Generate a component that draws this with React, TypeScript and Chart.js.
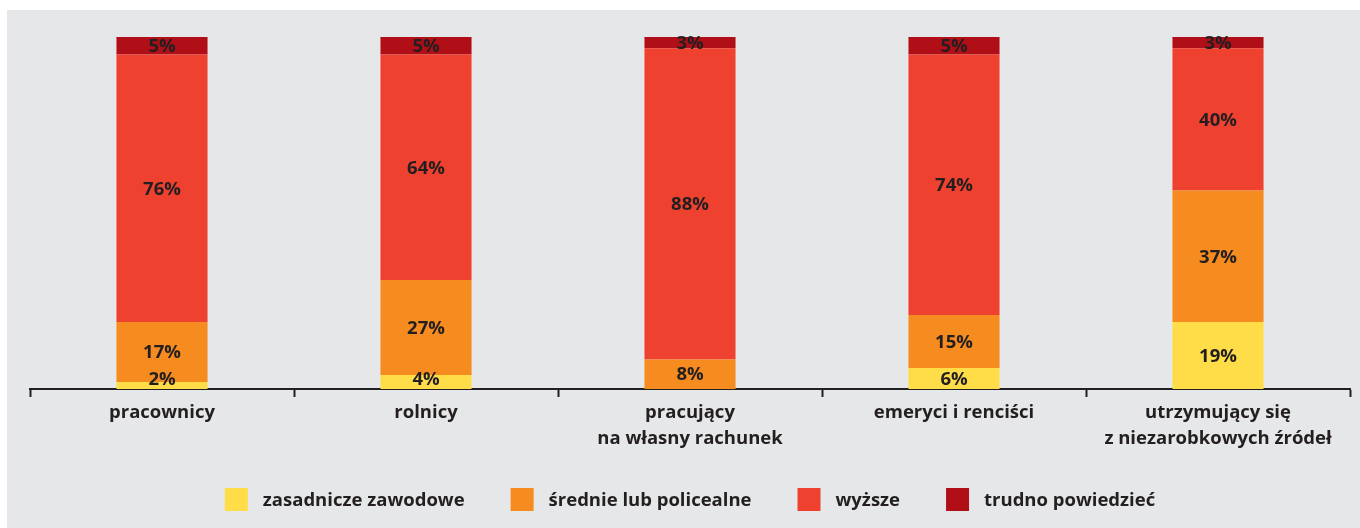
import { useEffect, useRef } from "react";
import { Chart, registerables } from "chart.js";

Chart.register(...registerables);

const categories = [
  ["pracownicy"],
  ["rolnicy"],
  ["pracujący", "na własny rachunek"],
  ["emeryci i renciści"],
  ["utrzymujący się", "z niezarobkowych źródeł"],
];
const seriesNames = ["zasadnicze zawodowe", "średnie lub policealne", "wyższe", "trudno powiedzieć"];
const zasadnicze = [2, 4, 0, 6, 19];
const srednie = [17, 27, 8.4, 15, 37.4];
const wyzsze = [76, 64, 88.4, 74, 40.4];
const trudno = [5, 5, 3.2, 5, 3.2];
const colors = ["#fedd48", "#f68b1f", "#ef4130", "#b10f17"];

const FONT = "'Open Sans', 'DejaVu Sans', sans-serif";
const TEXT = "#231f20";
const FS = 18.5;

const labelPlugin = {
  id: "segLabels",
  afterDatasetsDraw(chart: any) {
    const ctx = chart.ctx;
    const bottom = chart.chartArea.bottom;
    ctx.save();
    ctx.font = `bold ${FS}px ${FONT}`;
    ctx.fillStyle = TEXT;
    ctx.textAlign = "center";
    ctx.textBaseline = "middle";
    chart.data.datasets.forEach((ds: any, di: number) => {
      const meta = chart.getDatasetMeta(di);
      meta.data.forEach((el: any, i: number) => {
        const v = ds.data[i];
        if (!v) return;
        const center = (el.y + el.base) / 2;
        const y = Math.min(center, bottom - 10);
        ctx.fillText(Math.round(v) + "%", el.x, y + 1);
      });
    });
    ctx.restore();
  },
};

const legendPlugin = {
  id: "customLegend",
  afterDraw(chart: any) {
    const ctx = chart.ctx;
    ctx.save();
    ctx.font = `bold ${FS}px ${FONT}`;
    const box = 23;
    const gapText = 15;
    const gapItem = 46;
    const items = chart.data.datasets.map((d: any) => ({
      label: d.label,
      color: d.backgroundColor,
      w: ctx.measureText(d.label).width,
    }));
    const total =
      items.reduce((s: number, it: any) => s + box + gapText + it.w, 0) + gapItem * (items.length - 1);
    let x = (chart.chartArea.left + chart.chartArea.right) / 2 - total / 2;
    const cy = 489.5;
    ctx.textAlign = "left";
    ctx.textBaseline = "middle";
    items.forEach((it: any) => {
      ctx.fillStyle = it.color;
      ctx.fillRect(x, cy - box / 2, box, box);
      ctx.fillStyle = TEXT;
      ctx.fillText(it.label, x + box + gapText, cy + 1);
      x += box + gapText + it.w + gapItem;
    });
    ctx.restore();
  },
};

export default function App() {
  const ref = useRef<HTMLCanvasElement | null>(null);

  useEffect(() => {
    if (!ref.current) return;
    const series = [zasadnicze, srednie, wyzsze, trudno];
    const chart = new Chart(ref.current, {
      type: "bar",
      data: {
        labels: categories,
        datasets: series.map((d, i) => ({
          label: seriesNames[i],
          data: d,
          backgroundColor: colors[i],
          borderWidth: 0,
          barPercentage: 0.345,
          categoryPercentage: 1,
        })),
      },
      options: {
        animation: false,
        responsive: false,
        maintainAspectRatio: false,
        layout: { padding: { left: 23, right: 10, top: 27, bottom: 79 } },
        plugins: {
          legend: { display: false },
          tooltip: { enabled: false },
        },
        scales: {
          x: {
            stacked: true,
            offset: true,
            grid: {
              display: true,
              drawOnChartArea: false,
              drawTicks: true,
              tickLength: 8,
              tickWidth: 2,
              tickColor: TEXT,
              offset: true,
            },
            border: { display: true, color: TEXT, width: 2 },
            ticks: {
              color: TEXT,
              font: { family: FONT, size: FS, weight: "bold", lineHeight: 1.4 },
              padding: 3,
              maxRotation: 0,
              autoSkip: false,
            },
            afterFit: (s: any) => {
              s.height = 60;
            },
          },
          y: {
            stacked: true,
            display: false,
            min: 0,
            max: 100,
          },
        },
      },
      plugins: [labelPlugin, legendPlugin],
    });
    return () => chart.destroy();
  }, []);

  return (
    <div
      style={{
        position: "absolute",
        left: 7,
        top: 10,
        width: 1353,
        height: 518,
        background: "#e6e7e8",
      }}
    >
      <canvas ref={ref} width={1353} height={518} style={{ display: "block" }} />
    </div>
  );
}
